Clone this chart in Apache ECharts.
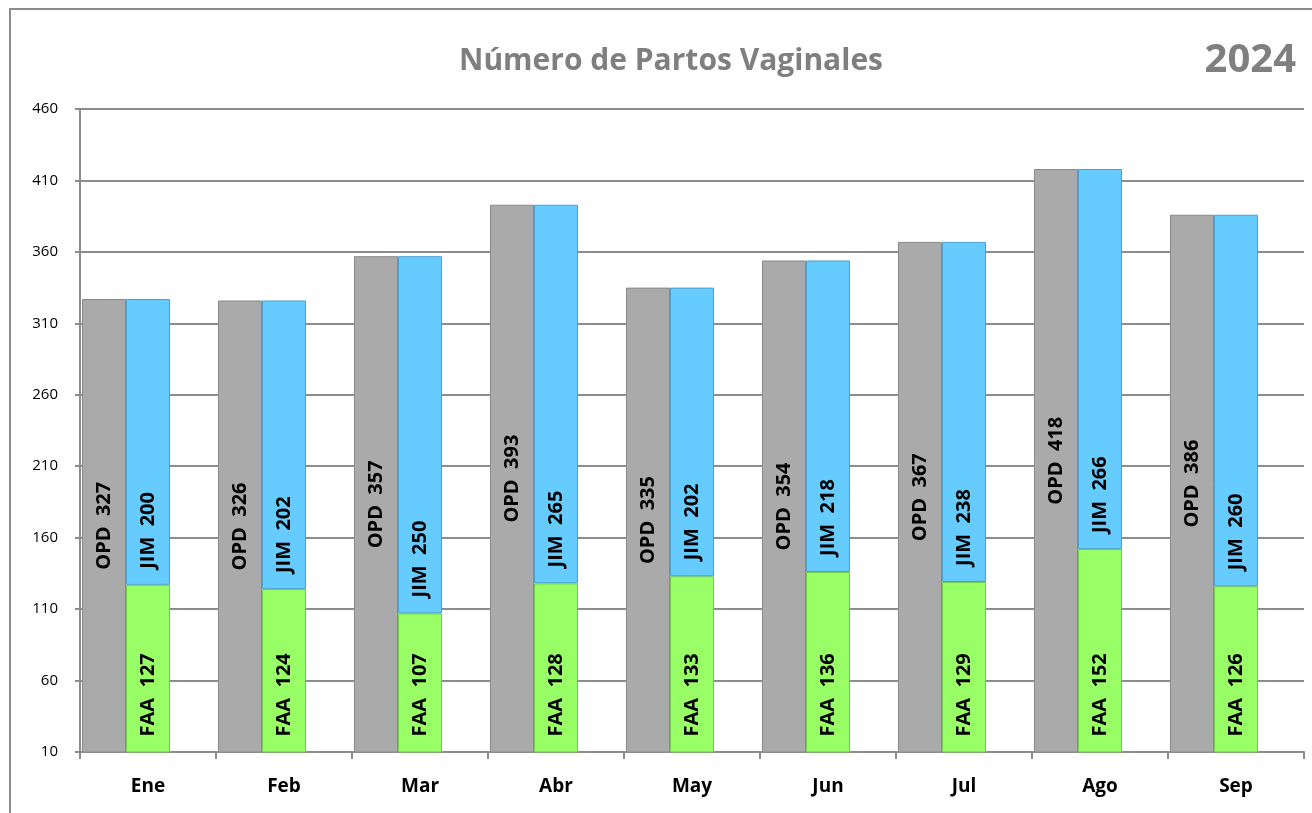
<!DOCTYPE html>
<html>
<head>
<meta charset="utf-8">
<script src="https://cdn.jsdelivr.net/npm/echarts@6/dist/echarts.min.js"></script>
<style>
  html, body { margin: 0; padding: 0; background: #fff; }
  #chart { width: 1312px; height: 813px; }
</style>
</head>
<body>
<div id="chart"></div>
<script>
// datos
const months = ['Ene', 'Feb', 'Mar', 'Abr', 'May', 'Jun', 'Jul', 'Ago', 'Sep']
const opd = [327, 326, 357, 393, 335, 354, 367, 418, 386]
const faa = [127, 124, 107, 128, 133, 136, 129, 152, 126]
const jim = [200, 202, 250, 265, 202, 218, 238, 266, 260]
const emptySlot = months.map(() => null)

const chart = echarts.init(document.getElementById('chart'))

const labelFont = {
  color: '#000',
  fontSize: 20,
  fontWeight: 'bold',
  fontFamily: 'Open Sans, sans-serif'
}

const option = {
  animation: false,
  title: {
    text: 'Número de Partos Vaginales',
    left: 454,
    top: 41,
    textStyle: { color: '#7f7f7f', fontSize: 30, fontWeight: 'bold', fontFamily: 'Open Sans, sans-serif' }
  },
  graphic: [
    {
      type: 'rect',
      shape: { x: 10, y: 9, width: 1340, height: 840 },
      style: { fill: 'none', stroke: '#8c8c8c', lineWidth: 2 },
      silent: true
    },
    {
      type: 'text',
      right: 16,
      top: 41,
      style: { text: '2024', fill: '#7f7f7f', fontSize: 40, fontWeight: 'bold', fontFamily: 'Open Sans, sans-serif' }
    }
  ],
  grid: { left: 80, right: 8, top: 109, bottom: 61 },
  xAxis: {
    type: 'category',
    data: months,
    axisLine: { lineStyle: { color: '#8c8c8c', width: 2 } },
    axisTick: { show: true, length: 7, lineStyle: { color: '#8c8c8c', width: 2 } },
    axisLabel: { color: '#000', fontSize: 19, fontWeight: 'bold', margin: 25, fontFamily: 'Open Sans, sans-serif' }
  },
  yAxis: {
    type: 'value',
    min: 10,
    max: 460,
    interval: 50,
    axisLine: { show: true, lineStyle: { color: '#8c8c8c', width: 2 } },
    axisTick: { show: true, length: 5, lineStyle: { color: '#8c8c8c', width: 2 } },
    axisLabel: { color: '#000', fontSize: 15, margin: 22, fontFamily: 'Open Sans, sans-serif' },
    splitLine: { lineStyle: { color: '#8c8c8c', width: 2 } }
  },
  series: [
    {
      name: 'OPD',
      type: 'bar',
      stack: 'opd',
      data: opd,
      barWidth: 44,
      barGap: 0,
      itemStyle: { color: '#aaaaaa', borderColor: '#8a8a8a', borderWidth: 1 },
      label: {
        show: true,
        position: 'inside',
        rotate: 90,
        formatter: p => 'OPD  ' + p.value,
        ...labelFont
      }
    },
    {
      name: 'FAA',
      type: 'bar',
      stack: 'partos',
      data: faa,
      barWidth: 44,
      barGap: 0,
      itemStyle: { color: '#99ff66', borderColor: '#74c94a', borderWidth: 1 },
      label: {
        show: true,
        position: 'insideBottom',
        distance: 16,
        rotate: 90,
        align: 'left',
        verticalAlign: 'middle',
        formatter: p => 'FAA  ' + p.value,
        ...labelFont
      }
    },
    {
      name: 'JIM',
      type: 'bar',
      stack: 'partos',
      data: jim,
      barWidth: 44,
      barGap: 0,
      itemStyle: { color: '#66ccff', borderColor: '#4aa0cc', borderWidth: 1 },
      label: {
        show: true,
        position: 'insideBottom',
        distance: 16,
        rotate: 90,
        align: 'left',
        verticalAlign: 'middle',
        formatter: p => 'JIM  ' + p.value,
        ...labelFont
      }
    },
    {
      name: 'vacio',
      type: 'bar',
      stack: 'vacio',
      data: emptySlot,
      barWidth: 44,
      barGap: 0
    }
  ]
}

chart.setOption(option)
</script>
</body>
</html>
